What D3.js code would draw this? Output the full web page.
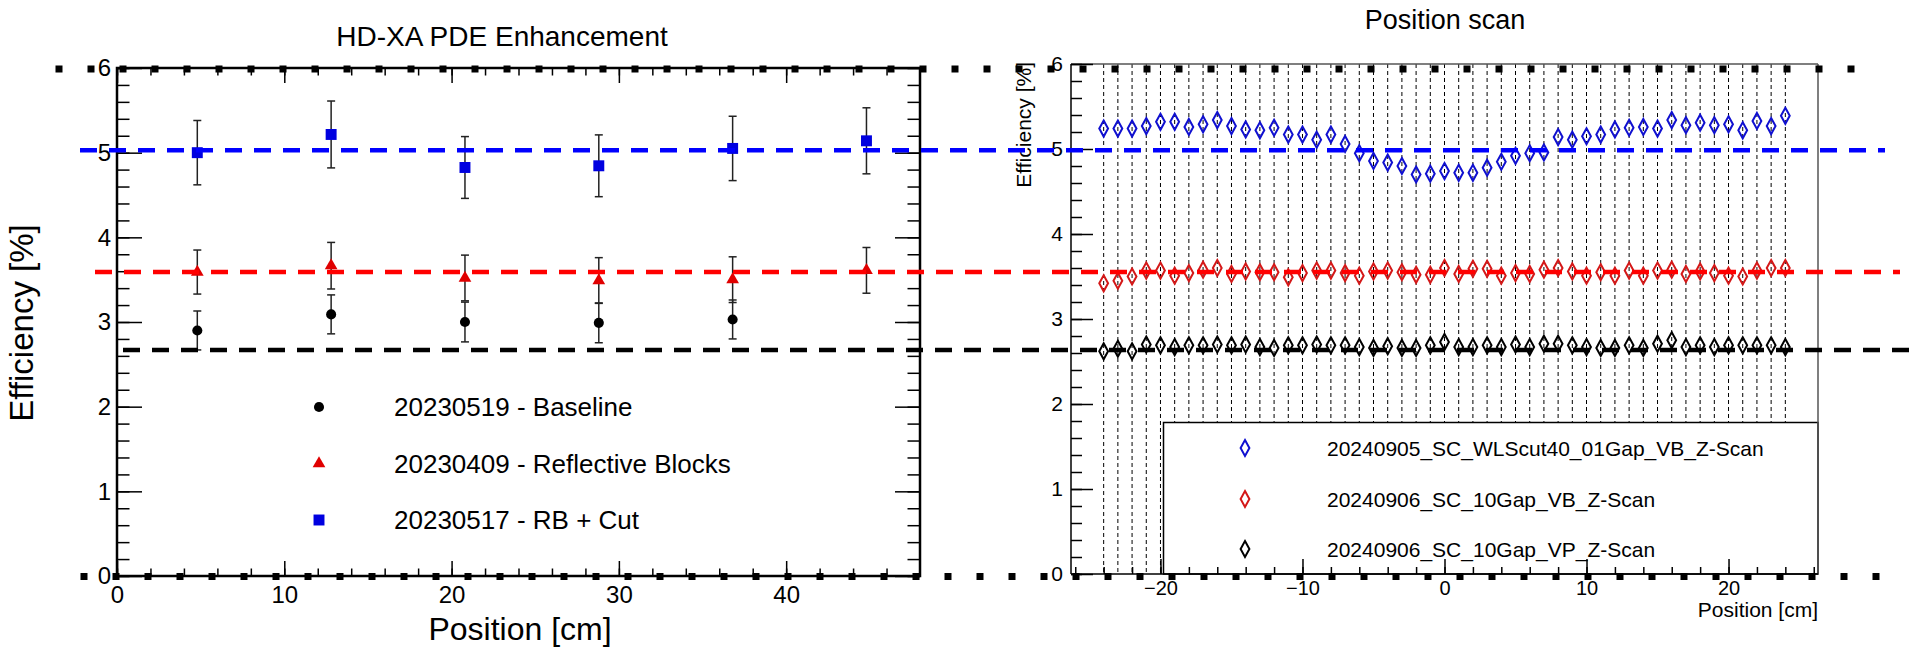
<!DOCTYPE html>
<html>
<head>
<meta charset="utf-8">
<script src="https://cdn.jsdelivr.net/npm/d3@7"></script>
<style>
  body { margin: 0; background: #fff; }
  svg text { font-family: "Liberation Sans", Arial, Helvetica, sans-serif; fill: #000; }
</style>
</head>
<body>
<svg id="chart"></svg>
<script>
// ---- left panel: HD-XA PDE Enhancement ----
const blockPositions = [4.8, 12.8, 20.8, 28.8, 36.8, 44.8];
const baselineEff = [2.90, 3.09, 3.00, 2.99, 3.03];
const baselineErr = [0.23, 0.23, 0.235, 0.235, 0.23];
const reflectiveEff = [3.59, 3.665, 3.52, 3.49, 3.50, 3.61];
const reflectiveErr = [0.26, 0.275, 0.27, 0.27, 0.27, 0.27];
const rbCutEff = [5.00, 5.215, 4.825, 4.845, 5.05, 5.14];
const rbCutErr = [0.38, 0.395, 0.365, 0.365, 0.38, 0.39];
const leftLegend = ["20230519 - Baseline", "20230409 - Reflective Blocks", "20230517 - RB + Cut"];
const leftXTicks = [0, 10, 20, 30, 40];

// ---- right panel: Position scan ----
const scanPositions = [-24, -23, -22, -21, -20, -19, -18, -17, -16, -15, -14, -13, -12, -11, -10, -9, -8, -7, -6, -5, -4, -3, -2, -1,
                       0, 1, 2, 3, 4, 5, 6, 7, 8, 9, 10, 11, 12, 13, 14, 15, 16, 17, 18, 19, 20, 21, 22, 23, 24];
const scanWLS01VB = [5.24, 5.24, 5.24, 5.27, 5.32, 5.32, 5.26, 5.29, 5.34, 5.27, 5.23, 5.22, 5.25, 5.17, 5.17, 5.11, 5.17, 5.06,
                     4.95, 4.86, 4.84, 4.80, 4.70, 4.71, 4.74, 4.72, 4.72, 4.78, 4.85, 4.92, 4.95, 4.96, 5.14, 5.11, 5.15, 5.17,
                     5.23, 5.25, 5.26, 5.24, 5.34, 5.28, 5.31, 5.28, 5.29, 5.22, 5.33, 5.27, 5.39];
const scan10VB = [3.42, 3.45, 3.50, 3.57, 3.57, 3.51, 3.54, 3.58, 3.60, 3.53, 3.56, 3.55, 3.55, 3.49, 3.54, 3.57, 3.57, 3.54,
                  3.51, 3.56, 3.57, 3.55, 3.52, 3.52, 3.60, 3.53, 3.59, 3.59, 3.51, 3.54, 3.53, 3.58, 3.60, 3.56, 3.51, 3.55,
                  3.51, 3.57, 3.51, 3.57, 3.58, 3.53, 3.56, 3.54, 3.51, 3.50, 3.57, 3.60, 3.60];
const scan10VP = [2.62, 2.65, 2.62, 2.70, 2.69, 2.67, 2.69, 2.69, 2.70, 2.69, 2.70, 2.67, 2.66, 2.69, 2.69, 2.70, 2.69, 2.69,
                  2.67, 2.66, 2.68, 2.66, 2.66, 2.69, 2.73, 2.67, 2.67, 2.69, 2.67, 2.70, 2.67, 2.71, 2.71, 2.69, 2.67, 2.66,
                  2.66, 2.69, 2.66, 2.71, 2.75, 2.67, 2.69, 2.67, 2.69, 2.69, 2.69, 2.69, 2.67];
const rightLegend = ["20240905_SC_WLScut40_01Gap_VB_Z-Scan", "20240906_SC_10Gap_VB_Z-Scan", "20240906_SC_10Gap_VP_Z-Scan"];
const rightXTicks = [-20, -10, 0, 10, 20];

// dashed guide levels laid over both panels
const refLevels = [5.03, 3.59, 2.67];
const refColors = ["#0000ff", "#ff0000", "#000000"];

const width = 1915, height = 648;

const svg = d3.select("#chart")
    .attr("width", width)
    .attr("height", height)
    .attr("viewBox", `0 0 ${width} ${height}`);

svg.append("rect").attr("width", width).attr("height", height).attr("fill", "#fff");

function styleAxis(g, fontSize) {
    g.select(".domain").remove();
    g.attr("font-size", fontSize).attr("font-family", null);
    g.selectAll(".tick line").attr("stroke", "#000").attr("stroke-width", 1.5);
}

// ================= left panel =================
const xL = d3.scaleLinear().domain([0, 48]).range([117, 920]);
const yL = d3.scaleLinear().domain([0, 6]).range([576, 68]);
const left = svg.append("g");

// minor ticks on all four sides
left.append("g").attr("transform", `translate(0,${yL(0)})`)
    .call(d3.axisBottom(xL).tickValues(d3.range(0, 48, 2)).tickSize(-7.5).tickFormat(""))
    .call(g => styleAxis(g, 24));
left.append("g").attr("transform", `translate(0,${yL(6)})`)
    .call(d3.axisTop(xL).tickValues(d3.range(0, 48, 2)).tickSize(-7.5).tickFormat(""))
    .call(g => styleAxis(g, 24));
left.append("g").attr("transform", `translate(${xL(0)},0)`)
    .call(d3.axisLeft(yL).tickValues(d3.range(0, 6.01, 0.2)).tickSize(-12.5).tickFormat(""))
    .call(g => styleAxis(g, 24));
left.append("g").attr("transform", `translate(${xL(48)},0)`)
    .call(d3.axisRight(yL).tickValues(d3.range(0, 6.01, 0.2)).tickSize(-12.5).tickFormat(""))
    .call(g => styleAxis(g, 24));

// major ticks + labels
left.append("g").attr("transform", `translate(0,${yL(0)})`)
    .call(d3.axisBottom(xL).tickValues(leftXTicks).tickSize(-15).tickPadding(10))
    .call(g => styleAxis(g, 24));
left.append("g").attr("transform", `translate(0,${yL(6)})`)
    .call(d3.axisTop(xL).tickValues(leftXTicks).tickSize(-15).tickFormat(""))
    .call(g => styleAxis(g, 24));
left.append("g").attr("transform", `translate(${xL(0)},0)`)
    .call(d3.axisLeft(yL).ticks(6).tickSize(-25).tickPadding(6))
    .call(g => styleAxis(g, 24));
left.append("g").attr("transform", `translate(${xL(48)},0)`)
    .call(d3.axisRight(yL).ticks(6).tickSize(-25).tickFormat(""))
    .call(g => styleAxis(g, 24));

left.append("rect")
    .attr("x", xL(0)).attr("y", yL(6))
    .attr("width", xL(48) - xL(0)).attr("height", yL(0) - yL(6))
    .attr("fill", "none").attr("stroke", "#000").attr("stroke-width", 2.5);

const leftSeries = [
    { eff: baselineEff, err: baselineErr, color: "#000000", symbol: d3.symbolCircle, size: 80 },
    { eff: reflectiveEff, err: reflectiveErr, color: "#e00000", symbol: d3.symbolTriangle, size: 70 },
    { eff: rbCutEff, err: rbCutErr, color: "#0000e0", symbol: d3.symbolSquare, size: 120 }
];

leftSeries.forEach(s => {
    const pts = s.eff.map((v, i) => ({ x: blockPositions[i], y: v, e: s.err[i] }));
    const eb = left.append("g").attr("stroke", "#222").attr("stroke-width", 1.5);
    eb.selectAll("line.bar").data(pts).join("line").attr("class", "bar")
        .attr("x1", d => xL(d.x)).attr("x2", d => xL(d.x))
        .attr("y1", d => yL(d.y - d.e)).attr("y2", d => yL(d.y + d.e));
    eb.selectAll("line.capT").data(pts).join("line").attr("class", "capT")
        .attr("x1", d => xL(d.x) - 4).attr("x2", d => xL(d.x) + 4)
        .attr("y1", d => yL(d.y + d.e)).attr("y2", d => yL(d.y + d.e));
    eb.selectAll("line.capB").data(pts).join("line").attr("class", "capB")
        .attr("x1", d => xL(d.x) - 4).attr("x2", d => xL(d.x) + 4)
        .attr("y1", d => yL(d.y - d.e)).attr("y2", d => yL(d.y - d.e));
    left.append("g").selectAll("path").data(pts).join("path")
        .attr("transform", d => `translate(${xL(d.x)},${yL(d.y)})`)
        .attr("d", d3.symbol(s.symbol, s.size))
        .attr("fill", s.color);
});

// legend (no frame)
const legL = left.append("g");
leftLegend.forEach((label, i) => {
    const cy = 407 + i * 56.5;
    legL.append("path")
        .attr("transform", `translate(319,${cy})`)
        .attr("d", d3.symbol(leftSeries[i].symbol, leftSeries[i].size))
        .attr("fill", leftSeries[i].color);
    legL.append("text").attr("x", 394).attr("y", cy + 9)
        .attr("font-size", 26).text(label);
});

svg.append("text").attr("x", 502).attr("y", 46).attr("text-anchor", "middle")
    .attr("font-size", 28).text("HD-XA PDE Enhancement");
svg.append("text").attr("x", 520).attr("y", 640).attr("text-anchor", "middle")
    .attr("font-size", 32).text("Position [cm]");
svg.append("text").attr("transform", "translate(33,323) rotate(-90)").attr("text-anchor", "middle")
    .attr("font-size", 33).text("Efficiency [%]");

// ================= right panel =================
const xR = d3.scaleLinear().domain([-26.3, 26.3]).range([1071, 1818]);
const yR = d3.scaleLinear().domain([0, 6]).range([574, 64]);
const right = svg.append("g");

// scan-position guide lines
right.append("g").selectAll("line").data(scanPositions).join("line")
    .attr("x1", d => xR(d)).attr("x2", d => xR(d))
    .attr("y1", yR(6)).attr("y2", yR(0))
    .attr("stroke", "#000").attr("stroke-width", 1).attr("stroke-dasharray", "4,3");

// legend box covers the lower guide lines
const legR = right.append("g");
legR.append("rect")
    .attr("x", 1163.5).attr("y", 422.5).attr("width", xR(26.3) - 1163.5).attr("height", yR(0) - 422.5)
    .attr("fill", "#fff").attr("stroke", "#000").attr("stroke-width", 1.5);

right.append("line").attr("x1", xR(-26.3)).attr("x2", xR(26.3)).attr("y1", yR(6)).attr("y2", yR(6))
    .attr("stroke", "#555").attr("stroke-width", 1.5);
right.append("line").attr("x1", xR(26.3)).attr("x2", xR(26.3)).attr("y1", yR(6)).attr("y2", yR(0))
    .attr("stroke", "#555").attr("stroke-width", 1.5);

const tallDiamond = {
    draw(ctx, size) {
        const h = Math.sqrt(size), w = h * 0.55;
        ctx.moveTo(0, -h);
        ctx.lineTo(w, 0);
        ctx.lineTo(0, h);
        ctx.lineTo(-w, 0);
        ctx.closePath();
    }
};

const rightSeries = [
    { values: scanWLS01VB, color: "#1010d0" },
    { values: scan10VB, color: "#d41818" },
    { values: scan10VP, color: "#000000" }
];

rightSeries.forEach(s => {
    right.append("g").selectAll("path").data(s.values).join("path")
        .attr("transform", (d, i) => `translate(${xR(scanPositions[i])},${yR(d)})`)
        .attr("d", d3.symbol(tallDiamond, 64))
        .attr("fill", "none").attr("stroke", s.color).attr("stroke-width", 2);
});

rightLegend.forEach((label, i) => {
    const cy = [448, 499, 549][i];
    legR.append("path")
        .attr("transform", `translate(1245,${cy})`)
        .attr("d", d3.symbol(tallDiamond, 64))
        .attr("fill", "none").attr("stroke", rightSeries[i].color).attr("stroke-width", 2);
    legR.append("text").attr("x", 1327).attr("y", cy + 7.5)
        .attr("font-size", 21).text(label);
});

// axes
right.append("g").attr("transform", `translate(${xR(-26.3)},0)`)
    .call(d3.axisLeft(yR).tickValues(d3.range(0, 6.01, 0.2)).tickSize(-11).tickFormat(""))
    .call(g => styleAxis(g, 21));
right.append("g").attr("transform", `translate(${xR(-26.3)},0)`)
    .call(d3.axisLeft(yR).ticks(6).tickSize(-22).tickPadding(8))
    .call(g => styleAxis(g, 21));
right.append("g").attr("transform", `translate(0,${yR(0)})`)
    .call(d3.axisBottom(xR).tickValues(d3.range(-26, 27, 2)).tickSize(-7).tickFormat(""))
    .call(g => styleAxis(g, 20));
right.append("g").attr("transform", `translate(0,${yR(0)})`)
    .call(d3.axisBottom(xR).tickValues(rightXTicks).tickSize(-15).tickPadding(7))
    .call(g => styleAxis(g, 20));
right.append("line").attr("x1", xR(-26.3)).attr("x2", xR(-26.3)).attr("y1", yR(6)).attr("y2", yR(0))
    .attr("stroke", "#000").attr("stroke-width", 1.5);
right.append("line").attr("x1", xR(-26.3)).attr("x2", xR(26.3)).attr("y1", yR(0)).attr("y2", yR(0))
    .attr("stroke", "#000").attr("stroke-width", 1.5);

svg.append("text").attr("x", 1445).attr("y", 29).attr("text-anchor", "middle")
    .attr("font-size", 27).text("Position scan");
svg.append("text").attr("x", xR(26.3)).attr("y", 617).attr("text-anchor", "end")
    .attr("font-size", 21).text("Position [cm]");
svg.append("text").attr("transform", "translate(1031,62) rotate(-90)").attr("text-anchor", "end")
    .attr("font-size", 21).text("Efficiency [%]");

// ================= overlays across both panels =================
const refStarts = [80, 95, 123], refEnds = [1885, 1900, 1915];
svg.append("g").selectAll("line").data(refLevels).join("line")
    .attr("x1", (d, i) => refStarts[i]).attr("x2", (d, i) => refEnds[i])
    .attr("y1", d => yL(d)).attr("y2", d => yL(d))
    .attr("stroke", (d, i) => refColors[i]).attr("stroke-width", 4.5)
    .attr("stroke-dasharray", "17,12");

// square-dotted rules at the 0 and 6 levels
svg.append("line").attr("x1", 55.5).attr("x2", 1854.5).attr("y1", 69).attr("y2", 69)
    .attr("stroke", "#000").attr("stroke-width", 7).attr("stroke-dasharray", "7,25");
svg.append("line").attr("x1", 80.5).attr("x2", 1879.5).attr("y1", 576.5).attr("y2", 576.5)
    .attr("stroke", "#000").attr("stroke-width", 7).attr("stroke-dasharray", "7,25");
</script>
</body>
</html>
